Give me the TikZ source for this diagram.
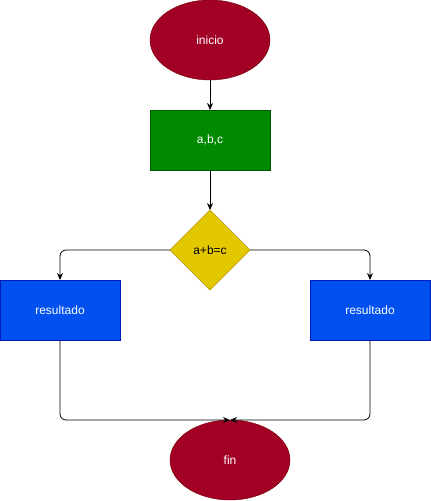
\documentclass[tikz,border=0pt]{standalone}
\usepackage{fontspec}
\setmainfont{Liberation Sans}
\usetikzlibrary{shapes.geometric,arrows.meta}
\definecolor{crimsonF}{HTML}{A20025}
\definecolor{crimsonS}{HTML}{6F0000}
\definecolor{greenF}{HTML}{008A00}
\definecolor{greenS}{HTML}{005700}
\definecolor{yellowF}{HTML}{E3C800}
\definecolor{yellowS}{HTML}{B09500}
\definecolor{blueF}{HTML}{0050EF}
\definecolor{blueS}{HTML}{001DBC}
\tikzset{
  base/.style={font=\fontsize{12}{14}\selectfont, inner sep=0pt, outer sep=0pt},
  term/.style={base, ellipse, minimum width=120pt, minimum height=80pt, fill=crimsonF, draw=crimsonS, text=white},
  proc/.style={base, rectangle, minimum width=120pt, minimum height=60pt, fill=greenF, draw=greenS, text=white},
  decis/.style={base, diamond, minimum width=80pt, minimum height=80pt, aspect=1, fill=yellowF, draw=yellowS, text=black},
  outbox/.style={base, rectangle, minimum width=120pt, minimum height=60pt, fill=blueF, draw=blueS, text=white},
  conn/.style={draw=black, line width=0.8pt, -{Stealth[length=7pt,width=6pt]}, rounded corners=6pt}
}
\begin{document}
\begin{tikzpicture}[x=1pt,y=-1pt]
\useasboundingbox (0,0) rectangle (431,501);
\node[term] (ini) at (210,40) {inicio};
\node[proc] (abc) at (210,140) {a,b,c};
\node[decis] (dec) at (210,250) {a+b=c};
\node[outbox] (resL) at (60,310) {resultado};
\node[outbox] (resR) at (370,310) {resultado};
\node[term] (fin) at (230,460) {fin};
\coordinate (meet) at (230,420);
\draw[conn] (ini) -- (abc);
\draw[conn] (abc) -- (dec);
\draw[conn] (dec.west) -| (resL.north);
\draw[conn] (dec.east) -| (resR.north);
\draw[conn] (resL.south) |- (meet);
\draw[conn] (resR.south) |- (meet);
\end{tikzpicture}
\end{document}
